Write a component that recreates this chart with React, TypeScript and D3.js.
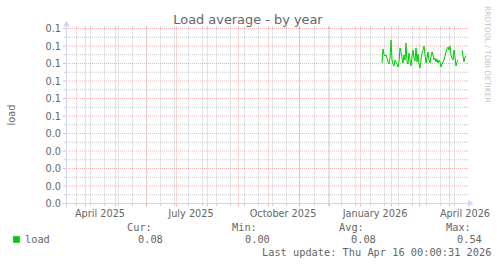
import React from "react";
import * as d3 from "d3";

const title = "Load average - by year";
const yAxisTitle = "load";
const seriesName = "load";
const yTickValues = [0, 0.01, 0.02, 0.03, 0.04, 0.05, 0.06, 0.07, 0.08, 0.09, 0.1];
const yTickLabels = ["0.0", "0.0", "0.0", "0.0", "0.0", "0.1", "0.1", "0.1", "0.1", "0.1", "0.1"];
const xLabelTexts = ["April 2025", "July 2025", "October 2025", "January 2026", "April 2026"];
const xLabelDates = ["2025-04-16", "2025-07-16", "2025-10-16", "2026-01-16", "2026-04-16"];
const domainStart = "2025-03-13";
const domainEnd = "2026-04-17";
const minorGridStart = "2025-03-23";
const loadStart = "2026-01-23";
const loadValues: (number | null)[] = [
  0.0803, 0.0883, 0.0849, 0.0843, 0.0849, 0.0831, 0.0809, 0.0797, 0.0831, 0.0934,
  0.082, 0.0797, 0.0786, 0.082, 0.0809, 0.0797, 0.078, 0.0809, 0.0889, 0.0866,
  0.0831, 0.0803, 0.0849, 0.082, 0.0917, 0.0809, 0.0797, 0.086, 0.082, 0.0786,
  0.0843, 0.0877, 0.0831, 0.0814, 0.0889, 0.0809, 0.0854, 0.0797, 0.0774, 0.082,
  0.086, 0.0877, 0.09, 0.0849, 0.0803, 0.0831, 0.0866, 0.082, 0.0803, 0.0837,
  0.0866, 0.0849, 0.082, 0.0831, 0.0809, 0.0826, 0.0803, 0.082, 0.0809, 0.078,
  0.0797, 0.0809, 0.082, 0.0843, 0.0866, 0.0883, 0.0894, 0.0877, 0.09, 0.0849,
  0.0831, 0.082, 0.0877, 0.0837, 0.0786, 0.0809, 0.082, null, null, null,
  0.0877, 0.0843, 0.0809, 0.0837, 0.0843,
];
const legendHeaders = ["Cur:", "Min:", "Avg:", "Max:"];
const legendValues = ["0.08", "0.00", "0.08", "0.54"];
const lastUpdate = "Last update: Thu Apr 16 00:00:31 2026";
const watermark = "RRDTOOL / TOBI OETIKER";

const W = 497;
const H = 264;
const X0 = 66;
const X1 = 466;
const Y0 = 203.5;
const Y1 = 28.5;
const FONT = "'DejaVu Sans', sans-serif";
const MONO = "'DejaVu Sans Mono', monospace";
const TXT = "#666666";
const AXIS = "#CFD6F8";
const GRID = "#8C8C8C";
const MGRID = "#F08080";
const GRID_OP = 0.45;
const MGRID_OP = 0.6;

const parse = (s: string) => {
  const [y, m, d] = s.split("-").map(Number);
  return new Date(y, m - 1, d);
};

export default function App() {
  const start = parse(domainStart);
  const end = parse(domainEnd);
  const x = d3.scaleTime().domain([start, end]).range([X0, X1]);
  const y = d3.scaleLinear().domain([0, 0.1]).range([Y0, Y1]);

  const weeks = d3.timeSunday.range(parse(minorGridStart), end, 2);
  const months = d3.timeMonth.range(d3.timeMonth.ceil(start), end);
  const px = (d: Date) => Math.floor(x(d)) + 0.5;

  const minorY: number[] = [];
  for (let i = 0; i < yTickValues.length - 1; i++) {
    minorY.push((yTickValues[i] + yTickValues[i + 1]) / 2);
  }

  const s0 = parse(loadStart);
  const pts = loadValues.map((v, i) => ({ t: d3.timeDay.offset(s0, i), v }));
  const line = d3
    .line<{ t: Date; v: number | null }>()
    .defined((d) => d.v !== null)
    .x((d) => x(d.t))
    .y((d) => y(d.v as number));

  const headerX = [127, 232, 339, 446];
  const valueX = [138, 245, 351, 457];

  return (
    <svg
      width={W}
      height={H}
      style={{ position: "absolute", left: 0, top: 0, background: "#ffffff" }}
    >
      <rect x={0} y={0} width={W} height={H} fill="#ffffff" />
      <text x={248} y={24} textAnchor="middle" fontFamily={FONT} fontSize={12.9} fill={TXT}>
        {title}
      </text>
      <text
        transform="translate(485,6) rotate(90)"
        fontFamily={FONT}
        fontSize={7.5}
        fill="#c4c4c4"
      >
        {watermark}
      </text>
      <text
        transform="translate(15,115) rotate(-90)"
        textAnchor="middle"
        fontFamily={FONT}
        fontSize={9.72}
        fill={TXT}
      >
        {yAxisTitle}
      </text>

      {weeks.map((d, i) => (
        <g key={"w" + i} stroke={GRID} strokeOpacity={GRID_OP} strokeWidth={1}>
          <line x1={px(d)} x2={px(d)} y1={Y0} y2={Y1} strokeDasharray="1,1" />
          <line x1={px(d)} x2={px(d)} y1={Y1 - 2} y2={Y1} />
          <line x1={px(d)} x2={px(d)} y1={Y0} y2={Y0 + 2} />
        </g>
      ))}
      {minorY.map((v, i) => (
        <g key={"my" + i} stroke={GRID} strokeOpacity={GRID_OP} strokeWidth={1}>
          <line x1={X0} x2={X1} y1={y(v)} y2={y(v)} strokeDasharray="1,1" />
          <line x1={X0 - 2} x2={X0} y1={y(v)} y2={y(v)} />
          <line x1={X1} x2={X1 + 2} y1={y(v)} y2={y(v)} />
        </g>
      ))}
      {months.map((d, i) => (
        <g key={"m" + i} stroke={MGRID} strokeOpacity={MGRID_OP} strokeWidth={1}>
          <line x1={px(d)} x2={px(d)} y1={Y0} y2={Y1} strokeDasharray="1,1" />
          <line x1={px(d)} x2={px(d)} y1={Y1 - 2} y2={Y1} />
          <line x1={px(d)} x2={px(d)} y1={Y0} y2={Y0 + 3} />
        </g>
      ))}
      {yTickValues.map((v, i) => (
        <g key={"y" + i} stroke={MGRID} strokeOpacity={MGRID_OP} strokeWidth={1}>
          <line x1={X0} x2={X1} y1={y(v)} y2={y(v)} strokeDasharray="1,1" />
          <line x1={X0 - 3} x2={X0} y1={y(v)} y2={y(v)} />
          <line x1={X1} x2={X1 + 2} y1={y(v)} y2={y(v)} />
        </g>
      ))}
      {yTickValues.map((v, i) => (
        <text
          key={"yl" + i}
          x={61}
          y={y(v) + 3.5}
          textAnchor="end"
          fontFamily={FONT}
          fontSize={9.72}
          fill={TXT}
        >
          {yTickLabels[i]}
        </text>
      ))}
      {xLabelTexts.map((t, i) => (
        <text
          key={"xl" + i}
          x={x(parse(xLabelDates[i]))}
          y={216.5}
          textAnchor="middle"
          fontFamily={FONT}
          fontSize={9.72}
          fill={TXT}
        >
          {t}
        </text>
      ))}

      <path d={line(pts) || ""} fill="none" stroke="#00CC00" strokeWidth={1} />

      <line x1={X0 - 4} x2={X1 + 4} y1={Y0} y2={Y0} stroke={AXIS} strokeWidth={1} />
      <line x1={X0 + 0.5} x2={X0 + 0.5} y1={Y0 + 4} y2={Y1 - 4} stroke={AXIS} strokeWidth={1} />
      <polygon
        points={`${X1 + 2},${Y0 - 3.5} ${X1 + 2},${Y0 + 3.5} ${X1 + 7.5},${Y0}`}
        fill={AXIS}
      />
      <polygon
        points={`${X0 - 3},${Y1 - 2} ${X0 + 4},${Y1 - 2} ${X0 + 0.5},${Y1 - 7.5}`}
        fill={AXIS}
      />

      <rect x={13.5} y={236.5} width={6} height={6} fill="#00CC00" stroke="#00A000" strokeWidth={0.5} />
      <text x={25} y={243} fontFamily={MONO} fontSize={10.3} fill={TXT}>
        {seriesName}
      </text>
      {legendHeaders.map((h, i) => (
        <text key={"lh" + i} x={headerX[i]} y={231} fontFamily={MONO} fontSize={10.3} fill={TXT}>
          {h}
        </text>
      ))}
      {legendValues.map((v, i) => (
        <text key={"lv" + i} x={valueX[i]} y={243} fontFamily={MONO} fontSize={10.3} fill={TXT}>
          {v}
        </text>
      ))}
      <text x={262} y={256} fontFamily={MONO} fontSize={10.3} fill={TXT}>
        {lastUpdate}
      </text>
    </svg>
  );
}
